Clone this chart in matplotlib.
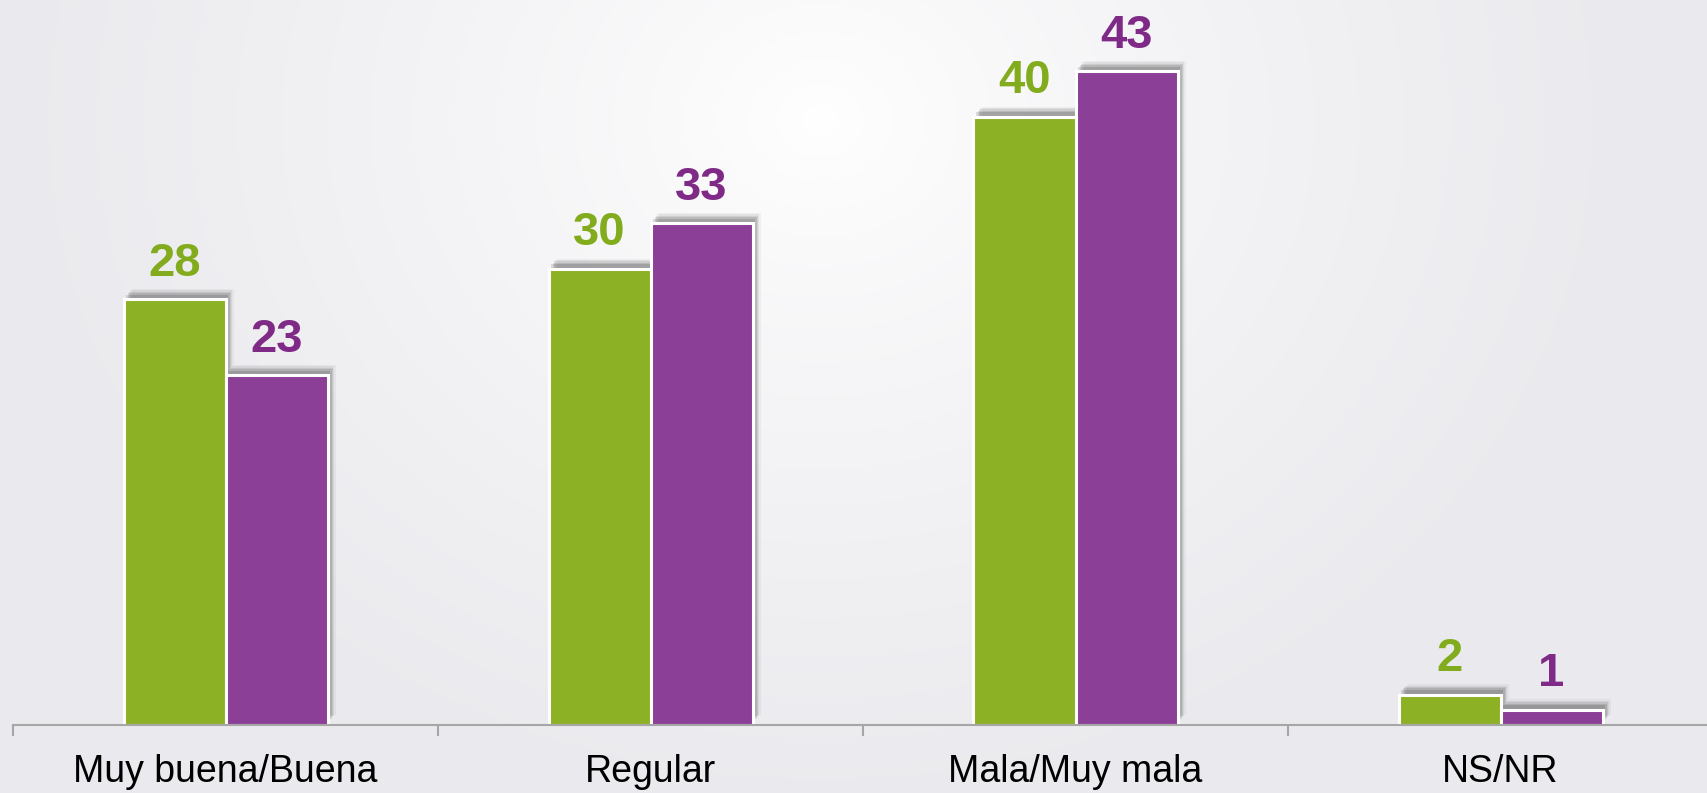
import numpy as np
import matplotlib
matplotlib.use("Agg")
import matplotlib.pyplot as plt
import matplotlib.patheffects as pe

categories = ["Muy buena/Buena", "Regular", "Mala/Muy mala", "NS/NR"]
series_green = [28, 30, 40, 2]
series_purple = [23, 33, 43, 1]

GREEN = "#8DB125"
PURPLE = "#8B3F97"
GREEN_TXT = "#82AC1E"
PURPLE_TXT = "#7E2A86"

W, H = 1707, 793
fig = plt.figure(figsize=(W / 100, H / 100), dpi=100)

# background radial gradient
bg = fig.add_axes([0, 0, 1, 1])
yy, xx = np.mgrid[0:H, 0:W]
r = np.sqrt(((xx - 820) / 820.0) ** 2 + ((yy - 120) / 700.0) ** 2)
t = np.clip(r, 0, 1) ** 0.8
base = np.array([234, 234, 238]) / 255.0
white = np.array([1.0, 1.0, 1.0])
img = white[None, None, :] * (1 - t[..., None]) + base[None, None, :] * t[..., None]
bg.imshow(img, extent=[0, W, H, 0], aspect="auto")
bg.axis("off")

ax = fig.add_axes([13 / W, 68 / H, 1700 / W, 725 / H])
ax.patch.set_alpha(0)
n = len(categories)
x = np.arange(n)
bw = 0.24
ax.set_xlim(-0.5, n - 0.5)
ax.set_ylim(0, 47.7)

shadow = [pe.SimplePatchShadow(offset=(o, o + 1.5), shadow_rgbFace="#000000", alpha=a)
          for o, a in [(6, 0.04), (5, 0.06), (4, 0.08), (3, 0.1), (2, 0.12)]] + [pe.Normal()]

for vals, off, col, tcol in [(series_green, -bw / 2, GREEN, GREEN_TXT),
                             (series_purple, bw / 2, PURPLE, PURPLE_TXT)]:
    bars = ax.bar(x + off, vals, width=bw, color=col, edgecolor="white", linewidth=2.2)
    for b, v in zip(bars, vals):
        b.set_path_effects(shadow)
        ax.annotate(str(v), (b.get_x() + b.get_width() / 2, b.get_height()),
                    xytext=(0, 17), textcoords="offset points", ha="center", va="baseline",
                    fontsize=34, fontweight="bold", color=tcol, family="Liberation Sans")

for s in ["top", "right", "left"]:
    ax.spines[s].set_visible(False)
ax.spines["bottom"].set_color("#A6A6A6")
ax.spines["bottom"].set_linewidth(1.5)
ax.set_yticks([])
ax.set_xticks(x)
ax.set_xticklabels(categories, fontsize=27, family="Liberation Sans", color="black")
ax.tick_params(axis="x", which="major", length=0, pad=21)
ax.set_xticks(np.arange(-0.5, n, 1.0), minor=True)
ax.tick_params(axis="x", which="minor", length=8, width=1.5, color="#A6A6A6")

fig.savefig("out.png", dpi=100)
